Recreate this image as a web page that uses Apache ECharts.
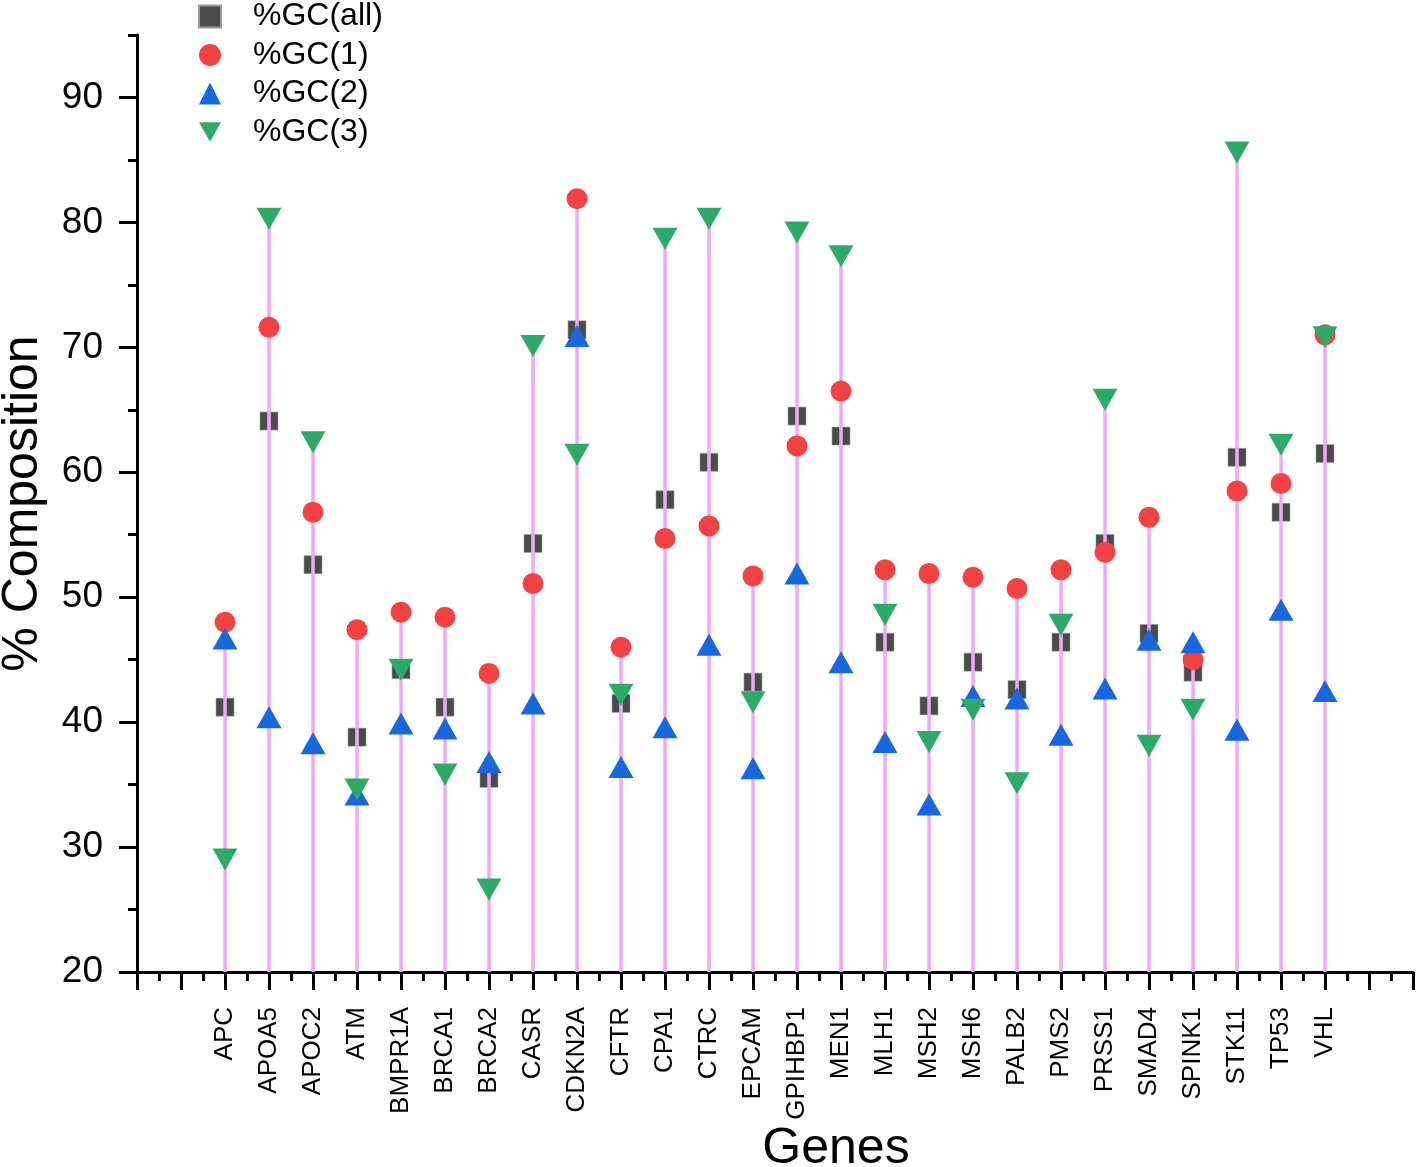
<!DOCTYPE html>
<html>
<head>
<meta charset="utf-8">
<script src="https://cdn.jsdelivr.net/npm/echarts@6/dist/echarts.min.js"></script>
<style>
  html, body { margin: 0; padding: 0; background: #fff; }
  #chart { width: 1416px; height: 1167px; }
</style>
</head>
<body>
<div id="chart"></div>
<script>
// ---- Data ----
const genes = ['APC','APOA5','APOC2','ATM','BMPR1A','BRCA1','BRCA2','CASR','CDKN2A','CFTR','CPA1','CTRC','EPCAM','GPIHBP1','MEN1','MLH1','MSH2','MSH6','PALB2','PMS2','PRSS1','SMAD4','SPINK1','STK11','TP53','VHL'];
const gcAll = [41.2, 64.1, 52.6, 38.8, 44.2, 41.2, 35.5, 54.3, 71.4, 41.5, 57.8, 60.8, 43.2, 64.5, 62.9, 46.4, 41.3, 44.8, 42.6, 46.4, 54.3, 47.1, 44.0, 61.2, 56.8, 61.5];
const gc1   = [48.0, 71.6, 56.8, 47.4, 48.8, 48.4, 43.9, 51.1, 81.9, 46.0, 54.7, 55.7, 51.7, 62.1, 66.5, 52.2, 51.9, 51.6, 50.7, 52.2, 53.6, 56.4, 45.0, 58.5, 59.1, 71.0];
const gc2   = [46.7, 40.4, 38.3, 34.2, 39.9, 39.5, 36.8, 41.5, 70.9, 36.4, 39.6, 46.2, 36.3, 51.9, 44.8, 38.4, 33.4, 42.1, 41.9, 39.0, 42.7, 46.6, 46.4, 39.4, 49.0, 42.5];
const gc3   = [29.0, 80.3, 62.4, 34.6, 44.2, 35.8, 26.6, 70.1, 61.4, 42.2, 78.7, 80.3, 41.6, 79.2, 77.3, 48.6, 38.4, 41.0, 35.1, 47.8, 65.8, 38.1, 41.0, 85.6, 62.2, 70.8];
const seriesNames = ['%GC(all)', '%GC(1)', '%GC(2)', '%GC(3)'];
const yTicks = [20, 30, 40, 50, 60, 70, 80, 90];
const yMin = 20, yMax = 95;
const xMin = -2, xMax = 27;

// ---- Build ----
const FONT = 'Liberation Sans, Arial, Helvetica, sans-serif';
const toPts = arr => arr.map((v, i) => [i, v]);
const stemData = genes.map((g, i) => [i, Math.max(gcAll[i], gc1[i], gc2[i], gc3[i])]);
const DOWN_TRI = 'path://M0,0 L25,0 L12.5,22 Z';

const chart = echarts.init(document.getElementById('chart'));
chart.setOption({
  animation: false,
  backgroundColor: '#ffffff',
  textStyle: { fontFamily: FONT },
  title: {
    text: 'Genes',
    left: 831, top: 1119, textAlign: 'center',
    textStyle: { fontFamily: FONT, fontSize: 50, fontWeight: 'normal', color: '#000' }
  },
  legend: {
    orient: 'vertical',
    left: 193, top: -4.5,
    itemWidth: 22, itemHeight: 22, itemGap: 6.5,
    textStyle: { fontFamily: FONT, fontSize: 32, color: '#000', padding: [0, 0, 0, 27] },
    data: [
      { name: seriesNames[0] },
      { name: seriesNames[1] },
      { name: seriesNames[2] },
      { name: seriesNames[3], icon: DOWN_TRI }
    ]
  },
  grid: { left: 137, right: 3, top: 35, bottom: 195, containLabel: false, outerBoundsMode: 'none' },
  xAxis: {
    type: 'value', min: xMin, max: xMax, interval: 1,
    axisLine: { show: true, onZero: false, lineStyle: { color: '#000', width: 3 } },
    axisTick: { show: true, length: 18, lineStyle: { color: '#000', width: 3 } },
    minorTick: { show: true, splitNumber: 2, length: 9, lineStyle: { color: '#000', width: 3 } },
    splitLine: { show: false },
    axisLabel: {
      rotate: 90, margin: 35, fontSize: 26, color: '#000', fontFamily: FONT,
      formatter: v => (genes[v] !== undefined ? genes[v] : '')
    }
  },
  yAxis: [{
    type: 'value', min: yMin, max: yMax, interval: 5,
    name: '% Composition', nameLocation: 'middle', nameGap: 89,
    nameTextStyle: { fontSize: 50, color: '#000', fontFamily: FONT },
    axisLine: { show: true, onZero: false, lineStyle: { color: '#000', width: 3 } },
    axisTick: { show: true, customValues: yTicks, length: 18, lineStyle: { color: '#000', width: 3 } },
    splitLine: { show: false },
    axisLabel: { customValues: yTicks, margin: 34, fontSize: 37, color: '#000', fontFamily: FONT }
  }, {
    type: 'value', min: yMin, max: yMax, interval: 5, position: 'left',
    axisLine: { show: false, onZero: false },
    axisTick: { show: true, length: 9, lineStyle: { color: '#000', width: 3 } },
    axisLabel: { show: false },
    splitLine: { show: false }
  }],
  series: [
    {
      name: seriesNames[0], type: 'scatter', z: 1,
      symbol: 'rect', symbolSize: 18,
      itemStyle: { color: '#4B4B4B', borderColor: '#9a9a9a', borderWidth: 0.6, opacity: 1 },
      data: toPts(gcAll)
    },
    {
      name: 'stems', type: 'custom', z: 2, silent: true,
      renderItem: (params, api) => {
        const top = api.coord([api.value(0), api.value(1)]);
        const bot = api.coord([api.value(0), yMin]);
        return {
          type: 'line',
          shape: { x1: top[0], y1: top[1], x2: bot[0], y2: bot[1] },
          style: { stroke: '#EFA8FA', lineWidth: 3.5 }
        };
      },
      data: stemData
    },
    {
      name: seriesNames[1], type: 'scatter', z: 3,
      symbol: 'circle', symbolSize: 21,
      itemStyle: { color: '#F44242', opacity: 1 },
      data: toPts(gc1)
    },
    {
      name: seriesNames[2], type: 'scatter', z: 4,
      symbol: 'triangle', symbolSize: [25, 22],
      itemStyle: { color: '#1767DF', opacity: 1 },
      data: toPts(gc2)
    },
    {
      name: seriesNames[3], type: 'scatter', z: 5,
      symbol: 'triangle', symbolRotate: 180, symbolSize: [25, 22],
      itemStyle: { color: '#2EAA68', opacity: 1 },
      data: toPts(gc3)
    }
  ]
});
</script>
</body>
</html>
